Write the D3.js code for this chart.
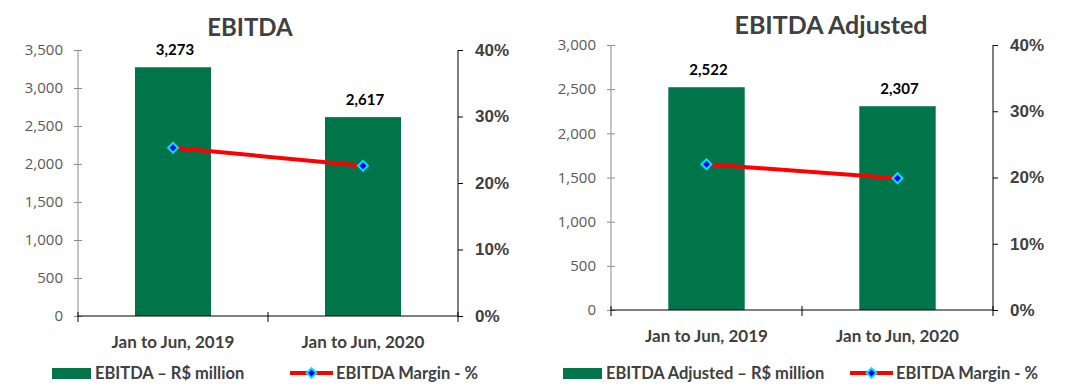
<!DOCTYPE html>
<html>
<head>
<meta charset="utf-8">
<script src="https://cdn.jsdelivr.net/npm/d3@7"></script>
<style>
  body { margin: 0; background: #fff; }
  svg { display: block; font-family: "Lato", "Open Sans", sans-serif; }
  .axis-left path, .axis-left line { stroke: #8c8c8c; }
  .axis-right path, .axis-right line, .axis-x path, .axis-x line { stroke: #000; }
</style>
</head>
<body>
<svg id="chart" width="1078" height="387"></svg>
<script>
const categories = ["Jan to Jun, 2019", "Jan to Jun, 2020"];

// left panel
const ebitda = [3273, 2617];
const ebitdaMargin = [0.253, 0.226];
const ebitdaTicks = [0, 500, 1000, 1500, 2000, 2500, 3000, 3500];

// right panel
const ebitdaAdj = [2522, 2307];
const ebitdaAdjMargin = [0.220, 0.199];
const ebitdaAdjTicks = [0, 500, 1000, 1500, 2000, 2500, 3000];

const marginTicks = [0, 0.1, 0.2, 0.3, 0.4];

const green = "#00754a";

const svg = d3.select("#chart");

function drawPanel(opt) {
    const g = svg.append("g");

    const x = d3.scaleBand()
        .domain(categories)
        .range([opt.left, opt.right])
        .paddingInner(0.6)
        .paddingOuter(0.3);

    // full category slots, for the x axis ticks
    const slot = d3.scaleBand().domain(categories).range([opt.left, opt.right]);

    const y = d3.scaleLinear()
        .domain([0, d3.max(opt.ticks)])
        .range([opt.bottom, opt.top]);

    const y2 = d3.scaleLinear()
        .domain([0, 0.4])
        .range([opt.bottom, opt.top]);

    // left axis (gray, cross ticks)
    const ax = g.append("g")
        .attr("class", "axis-left")
        .attr("transform", `translate(${opt.left},0)`)
        .call(d3.axisLeft(y).tickValues(opt.ticks).tickFormat(d3.format(",")).tickSizeOuter(0).tickSizeInner(4).tickPadding(11));
    ax.selectAll(".tick line").attr("x2", 4).attr("x1", -4);
    ax.selectAll("text")
        .attr("fill", "#595959")
        .style("font-size", "15px")
        .style("font-family", "'Open Sans', sans-serif");
    ax.select(".domain").attr("d", `M0,${opt.top}V${opt.bottom}`);

    // right axis
    const ar = g.append("g")
        .attr("class", "axis-right")
        .attr("transform", `translate(${opt.right},0)`)
        .call(d3.axisRight(y2).tickValues(marginTicks).tickFormat(d3.format(".0%")).tickSizeOuter(0).tickSizeInner(5).tickPadding(12));
    ar.selectAll("text")
        .attr("fill", "#404040")
        .style("font-size", "17px")
        .style("font-weight", "bold");
    ar.select(".domain").attr("d", `M0,${opt.top}V${opt.bottom}`);

    // bars
    g.selectAll(".bar")
        .data(opt.values)
        .join("rect")
        .attr("class", "bar")
        .attr("x", (d, i) => x(categories[i]))
        .attr("width", x.bandwidth())
        .attr("y", d => y(d))
        .attr("height", d => opt.bottom - y(d))
        .attr("fill", green);

    // x axis
    const axx = g.append("g")
        .attr("class", "axis-x")
        .attr("transform", `translate(0,${opt.bottom})`);
    axx.append("line")
        .attr("x1", opt.left).attr("x2", opt.right)
        .attr("stroke", "#000");
    const edges = [opt.left].concat(categories.map(c => slot(c) + slot.bandwidth()));
    axx.selectAll(".xt")
        .data(edges)
        .join("line")
        .attr("class", "xt")
        .attr("x1", d => d).attr("x2", d => d)
        .attr("y1", -4).attr("y2", 6)
        .attr("stroke", "#000");
    axx.selectAll(".xl")
        .data(categories)
        .join("text")
        .attr("class", "xl")
        .attr("x", d => x(d) + x.bandwidth() / 2)
        .attr("y", 32)
        .attr("text-anchor", "middle")
        .attr("fill", "#404040")
        .style("font-size", "17px")
        .style("font-weight", "bold")
        .text(d => d);

    // value labels
    g.selectAll(".vl")
        .data(opt.values)
        .join("text")
        .attr("class", "vl")
        .attr("x", (d, i) => x(categories[i]) + x.bandwidth() / 2 + 2)
        .attr("y", d => y(d) - 12)
        .attr("text-anchor", "middle")
        .attr("fill", "#000")
        .style("font-size", "15px")
        .style("font-weight", "bold")
        .text(d => d3.format(",")(d));

    // margin line
    const pts = opt.margin.map((m, i) => [x(categories[i]) + x.bandwidth() / 2, y2(m)]);
    g.append("path")
        .attr("d", d3.line()(pts))
        .attr("fill", "none")
        .attr("stroke", "#ff0000")
        .attr("stroke-width", 4);
    g.selectAll(".mk")
        .data(pts)
        .join("path")
        .attr("class", "mk")
        .attr("transform", d => `translate(${d[0]},${d[1]}) rotate(45)`)
        .attr("d", d3.symbol().type(d3.symbolSquare).size(48))
        .attr("fill", "#0000ff")
        .attr("stroke", "#00e5ff")
        .attr("stroke-width", 2);

    // title
    g.append("text")
        .attr("x", opt.titleX)
        .attr("y", opt.titleY)
        .attr("text-anchor", "middle")
        .attr("fill", "#404040")
        .style("font-size", opt.titleSize)
        .style("font-weight", "bold")
        .text(opt.title);

    // legend
    const lg = g.append("g").attr("transform", `translate(0,${opt.legendY})`);
    lg.append("rect")
        .attr("x", opt.legendX).attr("y", -5)
        .attr("width", 39).attr("height", 11)
        .attr("fill", green);
    lg.append("text")
        .attr("x", opt.legendX + 43).attr("y", 6)
        .attr("fill", "#404040")
        .style("font-size", "16.5px")
        .style("font-weight", "bold")
        .text(opt.barLabel);
    lg.append("line")
        .attr("x1", opt.legendX2).attr("x2", opt.legendX2 + 43)
        .attr("stroke", "#ff0000").attr("stroke-width", 4);
    lg.append("path")
        .attr("transform", `translate(${opt.legendX2 + 21.5},0) rotate(45)`)
        .attr("d", d3.symbol().type(d3.symbolSquare).size(48))
        .attr("fill", "#0000ff")
        .attr("stroke", "#00e5ff")
        .attr("stroke-width", 2);
    lg.append("text")
        .attr("x", opt.legendX2 + 46).attr("y", 6)
        .attr("fill", "#404040")
        .style("font-size", "16.5px")
        .style("font-weight", "bold")
        .text("EBITDA Margin - %");
}

drawPanel({
    title: "EBITDA", titleX: 250, titleY: 36, titleSize: "24px",
    values: ebitda, margin: ebitdaMargin, ticks: ebitdaTicks,
    left: 78, right: 458, top: 50, bottom: 316,
    legendY: 373, legendX: 52, legendX2: 290,
    barLabel: "EBITDA – R$ million"
});

drawPanel({
    title: "EBITDA Adjusted", titleX: 831, titleY: 34, titleSize: "25px",
    values: ebitdaAdj, margin: ebitdaAdjMargin, ticks: ebitdaAdjTicks,
    left: 611, right: 993, top: 45, bottom: 310,
    legendY: 373, legendX: 563, legendX2: 850,
    barLabel: "EBITDA Adjusted – R$ million"
});
</script>
</body>
</html>
